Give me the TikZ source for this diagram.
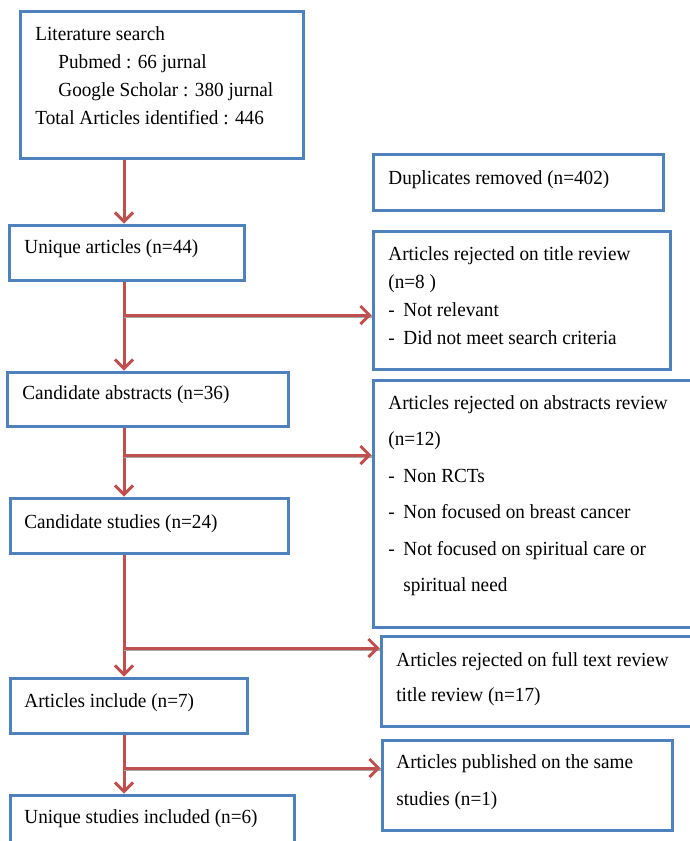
\documentclass[tikz,border=0pt]{standalone}
\usepackage{fontspec}
\setmainfont[FakeStretch=0.96]{Liberation Serif}
\usepackage{xcolor}
\usetikzlibrary{arrows.meta,positioning,fit,calc}

\definecolor{boxblue}{HTML}{4F81BD}
\definecolor{flowred}{HTML}{C0504D}

\newcommand{\dashitem}{\makebox[7.5pt][l]{-}}

\tikzset{
    box/.style={rectangle, draw=boxblue, line width=1.5pt, inner sep=0pt},
    txt/.style={anchor=north west, inner sep=0pt, align=left,
        font=\fontsize{10}{14}\selectfont},
    widetxt/.style={txt, font=\fontsize{10}{18.25}\selectfont},
    flow/.style={draw=flowred, line width=1.5pt,
        -{Straight Barb[length=4.5pt,width=9pt,line width=1.5pt]}},
    branch/.style={flow, preaction={draw=black!35, line width=1.5pt, arrows=-,
        transform canvas={yshift=-0.7pt}}}
}

\begin{document}
\begin{tikzpicture}[x=0.5pt, y=-0.5pt]
    \fill[white] (0,0) rectangle (690,841);
    \useasboundingbox (0,0) rectangle (690,841);

    % left column
    \node (lit) [box, fit={(20,11) (303,158)}] {};
    \node (unique) [box, fit={(9,225) (244,280)}] {};
    \node (cabs) [box, fit={(7,372) (288,426)}] {};
    \node (cstud) [box, fit={(10,498) (288,553)}] {};
    \node (ainc) [box, fit={(10,678) (247,733)}] {};
    \node (ustud) [box, fit={(10,795) (294,880)}] {};

    % right column
    \node (dup) [box, fit={(373,154) (663,210)}] {};
    \node (trej) [box, fit={(373,231) (670,369)}] {};
    \node (arej) [box, fit={(373,380) (715,627)}] {};
    \node (ftrej) [box, fit={(381,636) (715,726)}] {};
    \node (pub) [box, fit={(382,740) (672,830)}] {};

    % texts
    \node (litT) [txt] at (35,26) {Literature search\\
        \hspace*{11.5pt}Pubmed : 66 jurnal\\
        \hspace*{11.5pt}Google Scholar : 380 jurnal\\
        Total Articles identified : 446};
    \node (uniqueT) [txt] at (24,239) {Unique articles (n=44)};
    \node (cabsT) [txt] at (22,385) {Candidate abstracts (n=36)};
    \node (cstudT) [txt] at (24,514) {Candidate studies (n=24)};
    \node (aincT) [txt] at (24,693) {Articles include (n=7)};
    \node (ustudT) [txt] at (24,809) {Unique studies included (n=6)};

    \node (dupT) [txt] at (388,170) {Duplicates removed (n=402)};
    \node (trejT) [txt] at (388,246) {Articles rejected on title review\\
        (n=8 )\\
        \dashitem Not relevant\\
        \dashitem Did not meet search criteria};
    \node (arejT) [widetxt] at (388,395) {Articles rejected on abstracts review\\
        (n=12)\\
        \dashitem Non RCTs\\
        \dashitem Non focused on breast cancer\\
        \dashitem Not focused on spiritual care or\\
        \hspace*{7.5pt}spiritual need};
    \node (ftrejT) [txt, font=\fontsize{10}{17.5}\selectfont] at (396,652)
        {Articles rejected on full text review\\ title review (n=17)};
    \node (pubT) [txt, font=\fontsize{10}{18.5}\selectfont] at (396,754)
        {Articles published on the same\\ studies (n=1)};

    % trunk and branch points
    \coordinate (trunk) at (124,0);
    \coordinate (b1) at (124,315);
    \coordinate (b2) at (124,455);
    \coordinate (b3) at (124,648);
    \coordinate (b4) at (124,768);

    \draw [flow] (lit.south -| trunk) -- (unique.north -| trunk);
    \draw [flow] (unique.south -| trunk) -- (cabs.north -| trunk);
    \draw [flow] (cabs.south -| trunk) -- (cstud.north -| trunk);
    \draw [flow] (cstud.south -| trunk) -- (ainc.north -| trunk);
    \draw [flow] (ainc.south -| trunk) -- (ustud.north -| trunk);

    \draw [branch] (b1) -- (b1 -| trej.west);
    \draw [branch] (b2) -- (b2 -| arej.west);
    \draw [branch] (b3) -- (b3 -| ftrej.west);
    \draw [branch] (b4) -- (b4 -| pub.west);
\end{tikzpicture}
\end{document}
